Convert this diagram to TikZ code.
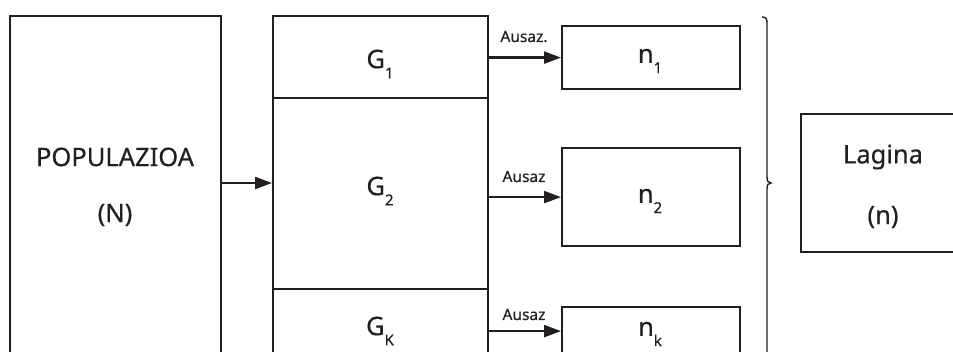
\documentclass[tikz,border=0pt]{standalone}
\usepackage{fontspec}
\setmainfont{Noto Sans}[FakeBold=0.4]
\usetikzlibrary{arrows.meta}
\definecolor{ink}{HTML}{231F20}
\newcommand{\sbx}[1]{\raisebox{-0.40em}{\fontsize{15}{15}\selectfont #1}}
\begin{document}
\begin{tikzpicture}[x=1pt, y=-1pt,
  box/.style={draw=ink, line width=2.2pt, rectangle, inner sep=0pt, anchor=north west},
  lbl/.style={text=ink, font=\fontsize{25.5}{25.5}\selectfont, inner sep=0pt},
  small/.style={text=ink, font=\fontsize{15.5}{15.5}\selectfont, inner sep=0pt},
  arr/.style={draw=ink, line width=2.2pt, -{Triangle[length=17pt, width=12pt]}}]
\useasboundingbox (0,0) rectangle (953,352);
\fill[white] (0,0) rectangle (953,352);
\clip (0,0) rectangle (953,352);

% population
\node[box, minimum width=211pt, minimum height=360pt] (pop) at (9,15) {};
\node[lbl] (popt) at (115,157) {POPULAZIOA};
\node[lbl] (popn) at (115,215) {(N)};

% strata
\node[box, minimum width=215pt, minimum height=82pt] (G1) at (272,15) {};
\node[box, minimum width=215pt, minimum height=191pt] (G2) at (272,97) {};
\node[box, minimum width=215pt, minimum height=80pt] (GK) at (272,288) {};
\node[lbl] (g1t) at (380,64) {G\sbx{1}};
\node[lbl] (g2t) at (380,191) {G\sbx{2}};
\node[lbl] (gkt) at (380,331) {G\sbx{K}};

% samples per stratum
\node[box, minimum width=178pt, minimum height=63pt] (n1) at (561,25) {};
\node[box, minimum width=178pt, minimum height=98pt] (n2) at (561,147) {};
\node[box, minimum width=178pt, minimum height=48pt] (nk) at (561,306) {};
\node[lbl] (n1t) at (650,61) {n\sbx{1}};
\node[lbl] (n2t) at (650,201) {n\sbx{2}};
\node[lbl] (nkt) at (650,334) {n\sbx{k}};

% sample
\node[box, minimum width=170pt, minimum height=138pt] (lag) at (800,113) {};
\node[lbl] (lagt) at (883,157) {Lagina};
\node[lbl] (lagn) at (883,217) {(n)};

% connectors
\coordinate (pin) at (0,183);
\draw[arr] (pop.east |- pin) -- (G2.west |- pin);
\draw[arr] (G1.east |- n1) -- (n1.west);
\draw[arr] (G1.east |- n2) -- (n2.west);
\draw[arr] (G1.east |- nk) -- (nk.west);
\node[small, anchor=base] (a1) at (524,42) {Ausaz.};
\node[small, anchor=base] (a2) at (524,182) {Ausaz};
\node[small, anchor=base] (a3) at (524,320) {Ausaz};

% brace
\draw[ink, line width=1.4pt]
  (762,17) .. controls (766,17) and (767,19) .. (767,23)
  -- (767,177) .. controls (767,181) and (768,183) .. (771,183)
  .. controls (768,183) and (767,185) .. (767,189)
  -- (767,360);
\end{tikzpicture}
\end{document}
